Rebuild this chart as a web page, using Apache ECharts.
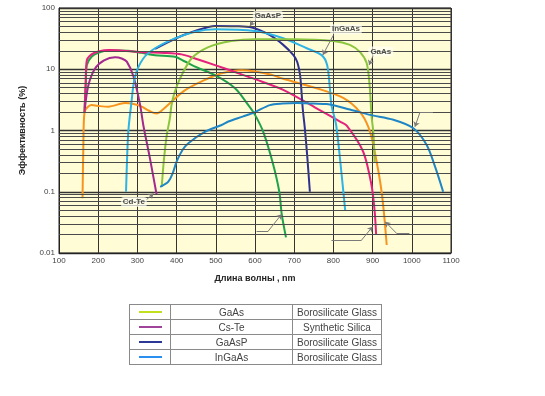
<!DOCTYPE html>
<html>
<head>
<meta charset="utf-8">
<script src="https://cdn.jsdelivr.net/npm/echarts@6/dist/echarts.min.js"></script>
<style>
  html, body { margin: 0; padding: 0; background: #fff; }
  #main { position: absolute; left: 0; top: 0; width: 545px; height: 396px; }
  #legendTable {
    position: absolute; left: 129px; top: 304px;
    border-collapse: collapse;
    font-family: "Liberation Sans", Arial, sans-serif;
    font-size: 10px; color: #444;
  }
  #legendTable td { border: 1px solid #8a8a8a; height: 14px; padding: 0; text-align: center; }
  #legendTable .swatch { width: 40px; }
  #legendTable .swatch div { width: 23px; height: 2px; margin: 0 auto; }
  #legendTable .mat { width: 121px; }
  #legendTable .win { width: 88px; }
</style>
</head>
<body>
<div id="main"></div>
<table id="legendTable"></table>
<script>
// кривые квантовой эффективности: [длина волны нм, %]
var orangeCurve = [[160,0.078],[162,0.5],[165,2.0],[183,2.6],[205,2.5],[226,2.45],[268,2.8],[290,2.7],[311,2.45],[330,2.1],[349,1.9],[365,2.2],[387,2.95],[410,4.0],[430,4.9],[472,6.7],[515,8.6],[566,9.6],[600,9.2],[640,8.2],[672,7.0],[757,4.9],[825,3.4],[868,2.0],[889,1.15],[902,0.58],[923,0.1],[936,0.0135]];
var greenCurve = [[165,2.0],[168,5],[171,11.7],[183,16],[200,18.5],[226,20.3],[250,20.3],[277,20],[310,18.5],[345,17],[396,16],[420,13.5],[447,11],[498,8],[549,4.9],[583,2.6],[600,1.8],[621,0.95],[645,0.3],[662,0.1],[668,0.044],[679,0.018]];
var pinkCurve = [[165,2.0],[168,6],[171,14],[183,17.5],[200,19.5],[230,20.6],[311,19],[370,18.5],[413,17.5],[447,15],[498,11.7],[549,9],[600,6.9],[672,4.6],[757,2.3],[817,1.4],[834,1.2],[876,0.45],[897,0.13],[905,0.05],[909,0.02]];
var purpleCurve = [[166,2.3],[175,5.5],[192,10.3],[215,14],[243,15.7],[260,15],[273,13.3],[290,7.6],[307,2.6],[315,1.23],[332,0.35],[349,0.09]];
var cyanCurve = [[271,0.1],[274,0.4],[277,1.0],[284,2.6],[294,7.6],[315,15],[345,22],[396,32],[447,41],[498,45],[600,42],[672,32],[732,22],[770,17],[784,11.7],[791,4.9],[795,2.6],[807,1.23],[821,0.19],[830,0.05]];
var navyCurve = [[345,21.5],[396,31.5],[447,42],[498,51],[550,50.5],[592,48],[638,36],[672,25],[698,17],[708,13],[715,8],[719,4],[722,2.2],[727,1.1],[733,0.4],[740,0.1]];
var limeCurve = [[362,0.12],[368,0.35],[375,0.85],[383,1.6],[387,2.6],[395,4.2],[409,7.1],[438,15],[481,23],[540,29],[600,31],[700,31],[800,29],[842,25],[868,19],[885,12.5],[893,4.9],[897,1.8],[902,0.9],[905,0.3]];
var tealCurve = [[358,0.12],[368,0.13],[379,0.146],[390,0.2],[400,0.31],[415,0.48],[430,0.62],[472,0.95],[515,1.23],[532,1.4],[570,1.7],[600,2.0],[638,2.6],[670,2.75],[706,2.8],[750,2.75],[783,2.7],[842,2.2],[893,1.8],[953,1.5],[1004,1.09],[1038,0.58],[1060,0.25],[1080,0.1]];

// подписи на графике
var noteTexts = ['GaAsP', 'InGaAs', 'GaAs', 'Cd-Te'];
var notePoints = [[633, 75], [832, 45], [921, 19.5], [291, 0.068]];
// выноски: [от, до, стрелка]
var leaderLines = [
  [[595, 60], [587, 51], true],
  [[800, 36], [773, 17.1], true],
  [[902, 17], [891, 11.7], true],
  [[322, 0.073], [341, 0.094], true],
  [[1054, 2.0], [1021, 2.0], false],
  [[1021, 2.0], [1008, 1.15], true],
  [[604, 0.0229], [634, 0.0229], false],
  [[634, 0.0229], [668, 0.043], true],
  [[795, 0.0163], [872, 0.0163], false],
  [[872, 0.0163], [900, 0.0269], true],
  [[994, 0.021], [961, 0.021], false],
  [[961, 0.021], [932, 0.0324], true]
];

// таблица под графиком
var legendColors = ['#c2e01e', '#a0439b', '#2c3896', '#2b8ff0'];
var legendNames = ['GaAs', 'Cs-Te', 'GaAsP', 'InGaAs'];
var legendWindows = ['Borosilicate Glass', 'Synthetic Silica', 'Borosilicate Glass', 'Borosilicate Glass'];

var table = document.getElementById('legendTable');
var html = '';
for (var i = 0; i < legendNames.length; i++) {
  html += '<tr><td class="swatch"><div style="background:' + legendColors[i] + '"></div></td>' +
    '<td class="mat">' + legendNames[i] + '</td><td class="win">' + legendWindows[i] + '</td></tr>';
}
table.innerHTML = html;

// малые линии сетки 2..9 в каждой декаде
var minorLines = [];
[0.01, 0.1, 1, 10].forEach(function (d) {
  for (var k = 2; k <= 9; k++) minorLines.push({ yAxis: +(d * k).toPrecision(3) });
});

var curves = [
  { data: orangeCurve, color: '#f7941d' },
  { data: greenCurve, color: '#1ea34b' },
  { data: pinkCurve, color: '#e4217d' },
  { data: purpleCurve, color: '#a3288f' },
  { data: navyCurve, color: '#2e3192' },
  { data: cyanCurve, color: '#2cb4e6' },
  { data: limeCurve, color: '#8cc63f' },
  { data: tealCurve, color: '#1f86c6' }
];

var series = [{
  type: 'line',
  data: [],
  silent: true,
  z: 1,
  markLine: {
    silent: true,
    symbol: ['none', 'none'],
    label: { show: false },
    animation: false,
    lineStyle: { color: '#4a4a4a', width: 1, type: 'solid' },
    data: minorLines
  }
}];

curves.forEach(function (c) {
  series.push({
    type: 'line',
    data: c.data,
    smooth: 0.3,
    showSymbol: false,
    z: 3,
    lineStyle: { color: c.color, width: 2 },
    itemStyle: { color: c.color }
  });
});

var leaderData = leaderLines.map(function (l) {
  return [
    { coord: l[0], symbol: 'none' },
    { coord: l[1], symbol: l[2] ? 'arrow' : 'none', symbolSize: 5 }
  ];
});

series.push({
  type: 'line',
  data: [],
  z: 4,
  markLine: {
    silent: true,
    animation: false,
    label: { show: false },
    lineStyle: { color: '#7a7a7a', width: 1, type: 'solid' },
    itemStyle: { color: '#333' },
    data: leaderData
  }
});

series.push({
  type: 'scatter',
  symbolSize: 0,
  z: 5,
  silent: true,
  data: notePoints.map(function (p, i) { return { value: p, name: noteTexts[i] }; }),
  label: {
    show: true,
    position: 'inside',
    formatter: '{b}',
    fontFamily: 'Liberation Sans',
    fontSize: 8,
    fontWeight: 'bold',
    color: '#222',
    backgroundColor: 'rgba(255,255,245,0.85)',
    borderRadius: 3,
    padding: [1, 2]
  }
});

var chart = echarts.init(document.getElementById('main'));
chart.setOption({
  animation: false,
  backgroundColor: '#fff',
  textStyle: { fontFamily: 'Liberation Sans' },
  grid: {
    left: 59, top: 8, right: 94, bottom: 143,
    show: true,
    backgroundColor: '#fffcd6',
    borderColor: '#222',
    borderWidth: 1
  },
  xAxis: {
    type: 'value',
    min: 100, max: 1100, interval: 100,
    name: 'Длина волны , nm',
    nameLocation: 'middle',
    nameGap: 21,
    nameTextStyle: { fontSize: 9, fontWeight: 'bold', color: '#222' },
    axisLine: { lineStyle: { color: '#222' } },
    axisTick: { show: false },
    axisLabel: { fontSize: 8, color: '#444', margin: 4, formatter: function (v) { return String(v); } },
    splitLine: { lineStyle: { color: '#333', width: 1 } }
  },
  yAxis: {
    type: 'log',
    logBase: 10,
    min: 0.01, max: 100,
    name: 'Эффективность (%)',
    nameLocation: 'middle',
    nameRotate: 90,
    nameGap: 32,
    nameTextStyle: { fontSize: 9, fontWeight: 'bold', color: '#222' },
    axisLine: { show: true, lineStyle: { color: '#222' } },
    axisTick: { show: false },
    axisLabel: { fontSize: 8, color: '#444', margin: 4 },
    splitLine: { lineStyle: { color: '#333', width: 1.4 } }
  },
  series: series
});
</script>
</body>
</html>
